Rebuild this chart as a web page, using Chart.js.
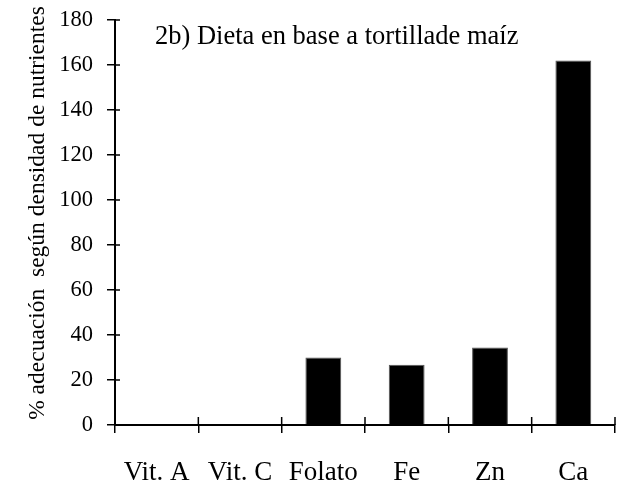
<!DOCTYPE html>
<html>
<head>
<meta charset="utf-8">
<script src="https://cdn.jsdelivr.net/npm/chart.js@4"></script>
<style>
  html, body { margin: 0; padding: 0; background: #fff; }
  #wrap { width: 628px; height: 489px; }
</style>
</head>
<body>
<div id="wrap"><canvas id="grafico"></canvas></div>
<script>
const categorias = ['Vit. A', 'Vit. C', 'Folato', 'Fe', 'Zn', 'Ca'];
const adecuacion = [0, 0, 30, 26.8, 34.5, 162];
const ticksY = [0, 20, 40, 60, 80, 100, 120, 140, 160, 180];
const tituloPanel = '2b) Dieta en base a tortillade maíz';
const tituloEjeY = '% adecuación  según densidad de nutrientes';

const FUENTE = "'Liberation Serif', 'Times New Roman', serif";

// marcas cruzadas (mitad interior de cada tick), titulo del panel y titulo del eje Y
const marcasPlugin = {
    id: 'marcas',
    afterDraw(chart) {
        const { ctx, chartArea, scales } = chart;
        const x = scales.x, y = scales.y;
        ctx.save();
        ctx.strokeStyle = '#000';
        ctx.lineWidth = 1.5;
        ctx.beginPath();
        ticksY.forEach(v => {
            const py = y.getPixelForValue(v);
            ctx.moveTo(chartArea.left, py);
            ctx.lineTo(chartArea.left + 5, py);
        });
        for (let i = 0; i < categorias.length; i++) {
            const px = x.getPixelForValue(i + 0.5);
            ctx.moveTo(px, chartArea.bottom);
            ctx.lineTo(px, chartArea.bottom - 8);
        }
        ctx.stroke();

        ctx.fillStyle = '#000';
        ctx.font = '26.5px ' + FUENTE;
        ctx.textBaseline = 'middle';
        ctx.textAlign = 'left';
        ctx.fillText(tituloPanel, chartArea.left + 40, 37);

        // titulo vertical
        ctx.translate(44, 213);
        ctx.rotate(-Math.PI / 2);
        ctx.font = '23.5px ' + FUENTE;
        ctx.textAlign = 'center';
        ctx.textBaseline = 'alphabetic';
        ctx.fillText(tituloEjeY, 0, 0);
        ctx.restore();
    }
};

new Chart(document.getElementById('grafico'), {
    type: 'bar',
    data: {
        labels: categorias,
        datasets: [{
            data: adecuacion,
            backgroundColor: '#000',
            borderColor: '#555',
            borderWidth: 1,
            categoryPercentage: 1,
            barPercentage: 0.43
        }]
    },
    options: {
        responsive: true,
        maintainAspectRatio: false,
        animation: false,
        layout: { padding: { top: 20, right: 13, bottom: 0, left: 0 } },
        plugins: { legend: { display: false }, tooltip: { enabled: false } },
        scales: {
            x: {
                afterFit: s => { s.height = 64; s.paddingRight = 0; },
                grid: { drawOnChartArea: false, drawTicks: true, tickLength: 8, color: '#000', lineWidth: 1.5 },
                border: { display: true, color: '#000', width: 2 },
                ticks: { color: '#000', padding: 24, maxRotation: 0, font: { family: FUENTE, size: 27 } }
            },
            y: {
                min: 0,
                max: 180,
                afterFit: s => { s.width = 115; s.paddingTop = 0; s.paddingBottom = 0; },
                afterBuildTicks: s => { s.ticks = ticksY.map(v => ({ value: v })); },
                grid: { drawOnChartArea: false, drawTicks: true, tickLength: 8, color: '#000', lineWidth: 1.5 },
                border: { display: true, color: '#000', width: 2 },
                ticks: { color: '#000', padding: 14, font: { family: FUENTE, size: 22.5 } }
            }
        }
    },
    plugins: [marcasPlugin]
});
</script>
</body>
</html>
